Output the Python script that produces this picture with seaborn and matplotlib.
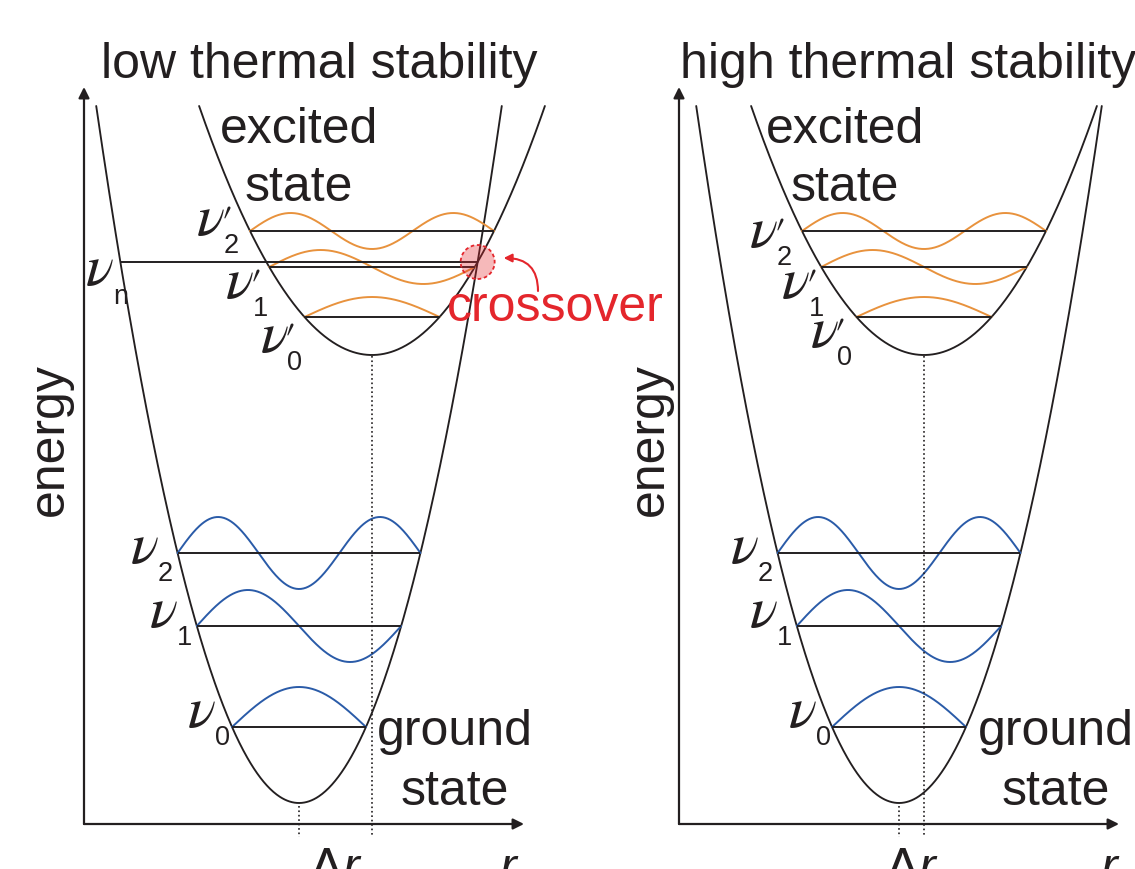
import numpy as np
import matplotlib
matplotlib.use("Agg")
import matplotlib.pyplot as plt
import seaborn as sns
from matplotlib.patches import Circle

sns.set_theme(style="white")
plt.rcParams["font.family"] = ["Liberation Sans", "DejaVu Sans"]
plt.rcParams["mathtext.fontset"] = "custom"
plt.rcParams["mathtext.rm"] = "Liberation Sans"
plt.rcParams["mathtext.it"] = "Liberation Sans:italic"
plt.rcParams["mathtext.bf"] = "Liberation Sans:bold"

# ---- potential-energy curves (r and energy in arbitrary units) ----
panel_titles = ["low thermal stability", "high thermal stability"]
ground_r0 = [2.15, 2.20]          # equilibrium distance, ground state
delta_r = [0.73, 0.25]            # displacement of the excited-state minimum
ground_min_E = 0.21
excited_min_E = 4.69
ground_k = 1.695                  # curvature of the ground-state well
excited_k = 0.833                 # curvature of the excited-state well
curve_top_E = 7.18

# vibrational levels and wavefunction amplitudes
ground_levels = [0.97, 1.98, 2.71]
excited_levels = [5.07, 5.57, 5.93]
ground_amp = [0.40, 0.36, 0.36]
excited_amp = [0.20, 0.17, 0.18]
level_subscripts = ["0", "1", "2"]
crossing_subscript = "n"

# ---- layout ----
W, H, DPI = 1135, 870, 100
AXIS_Y_PX = 825
origin_px = [84, 679]
INK = "#231f20"
BLUE = "#2a5ba8"
ORANGE = "#e8923d"
RED = "#e4262c"
FS = 36
NU_FS = 42
SUB_FS = 19.5
NU_FONT = dict(family="STIXGeneral", style="italic")

layout = [
    dict(title_r=0.17, excited_r=2.15, ground_r=3.71, energy_r=-0.34, r_lab=4.25,
         g_left=[0.44, 0.47, 0.47], g_drop=[-0.01, 0.0, 0.09],
         e_left=[0.44, 0.43, 0.53], e_drop=[0.34, 0.30, 0.03]),
    dict(title_r=0.01, excited_r=1.66, ground_r=3.77, energy_r=-0.29, r_lab=4.31,
         g_left=[0.43, 0.47, 0.47], g_drop=[-0.01, 0.0, 0.09],
         e_left=[0.46, 0.39, 0.52], e_drop=[0.29, 0.30, 0.15]),
]

fig = plt.figure(figsize=(W / DPI, H / DPI), dpi=DPI)


def curve(ax, x, y, color, lw, ls="-"):
    sns.lineplot(x=x, y=y, ax=ax, color=color, lw=lw, ls=ls,
                 sort=False, estimator=None, legend=False)


def well(ax, r0, e0, k):
    half = np.sqrt((curve_top_E - e0) / k)
    r = np.linspace(r0 - half, r0 + half, 500)
    curve(ax, r, e0 + k * (r - r0) ** 2, INK, 1.35)


def width_at(r0, e0, k, E):
    half = np.sqrt((E - e0) / k)
    return r0 - half, r0 + half


def level(ax, r0, e0, k, E, n, amp, color):
    a, b = width_at(r0, e0, k, E)
    ax.hlines(E, a, b, color=INK, lw=1.4, zorder=3)
    t = np.linspace(0, 1, 300)
    curve(ax, a + (b - a) * t, E + amp * np.sin(np.pi * (n + 1) * t), color, 1.4)
    return a


def nu_label(ax, x, base, sub, prime=False):
    """Greek nu with a subscript (and optional prime), left edge at x."""
    ax.text(x, base, "\u03bd", ha="left", va="baseline", fontsize=NU_FS,
            color=INK, **NU_FONT)
    ax.text(x + 0.27, base - 0.185, sub, ha="left", va="baseline",
            fontsize=SUB_FS, color=INK)
    if prime:
        ax.text(x + 0.235, base - 0.02, "\u2032", ha="left", va="baseline",
                fontsize=32, color=INK, family="STIXGeneral")


for p in range(2):
    ax = fig.add_axes([0, 0, 1, 1])
    ox = origin_px[p] / 100
    ax.set_xlim(-ox, W / 100 - ox)
    ax.set_ylim(-(H - AXIS_Y_PX) / 100, AXIS_Y_PX / 100)
    ax.set_axis_off()
    ax.patch.set_alpha(0)
    L = layout[p]

    g0 = ground_r0[p]
    e0 = g0 + delta_r[p]

    # axes with arrow heads
    arrow = dict(arrowstyle="-|>", color=INK, lw=1.6, mutation_scale=16,
                 shrinkA=0, shrinkB=0)
    ax.annotate("", xy=(0, 7.37), xytext=(0, 0), arrowprops=arrow)
    ax.annotate("", xy=(4.40, 0), xytext=(0, 0), arrowprops=arrow)

    well(ax, g0, ground_min_E, ground_k)
    well(ax, e0, excited_min_E, excited_k)

    for n, E in enumerate(ground_levels):
        a = level(ax, g0, ground_min_E, ground_k, E, n, ground_amp[n], BLUE)
        nu_label(ax, a - L["g_left"][n], E - L["g_drop"][n], level_subscripts[n])
    for n, E in enumerate(excited_levels):
        a = level(ax, e0, excited_min_E, excited_k, E, n, excited_amp[n], ORANGE)
        nu_label(ax, a - L["e_left"][n], E - L["e_drop"][n], level_subscripts[n],
                 prime=True)

    # dotted drop lines from both minima
    curve(ax, [g0, g0], [ground_min_E - 0.03, -0.13], INK, 1.2, ":")
    curve(ax, [e0, e0], [excited_min_E - 0.01, -0.13], INK, 1.2, ":")

    ax.text(L["title_r"], 7.47, panel_titles[p], ha="left", va="baseline",
            fontsize=FS, color=INK)
    ax.text(L["excited_r"], 6.82, "excited", ha="center", va="baseline",
            fontsize=FS, color=INK)
    ax.text(L["excited_r"], 6.24, "state", ha="center", va="baseline",
            fontsize=FS, color=INK)
    ax.text(L["ground_r"], 0.80, "ground", ha="center", va="baseline",
            fontsize=FS, color=INK)
    ax.text(L["ground_r"], 0.20, "state", ha="center", va="baseline",
            fontsize=FS, color=INK)
    ax.text(L["energy_r"], 3.85, "energy", rotation=90, ha="center", va="center",
            fontsize=FS, color=INK)
    ax.text((g0 + e0) / 2, -0.22, r"$\Delta r$", ha="center", va="top",
            fontsize=FS, color=INK)
    ax.text(L["r_lab"], -0.22, r"$r$", ha="center", va="top",
            fontsize=FS, color=INK)

    if p == 0:
        # crossing point of the two wells (right-hand branches)
        A = ground_k - excited_k
        B = -2 * (ground_k * g0 - excited_k * e0)
        C = ground_k * g0 ** 2 - excited_k * e0 ** 2 + ground_min_E - excited_min_E
        rc = (-B + np.sqrt(B * B - 4 * A * C)) / (2 * A)
        Ec = ground_min_E + ground_k * (rc - g0) ** 2
        a, _ = width_at(g0, ground_min_E, ground_k, Ec)
        ax.hlines(Ec, a, rc, color=INK, lw=1.4, zorder=3)
        nu_label(ax, 0.02, Ec - 0.22, crossing_subscript)
        ax.add_patch(Circle((rc, Ec), 0.17, facecolor=(0.89, 0.15, 0.17, 0.32),
                            edgecolor=RED, lw=1.3, ls=(0, (2, 1.5)), zorder=5))
        ax.text(3.63, 5.04, "crossover", ha="left", va="baseline",
                fontsize=FS, color=RED, zorder=6)
        ax.annotate("", xy=(rc + 0.26, Ec + 0.04), xytext=(4.54, 5.33),
                    arrowprops=dict(arrowstyle="-|>", color=RED, lw=1.5,
                                    mutation_scale=12, shrinkA=0, shrinkB=0,
                                    connectionstyle="angle3,angleA=90,angleB=0"))

fig.savefig("out.png", dpi=DPI)
